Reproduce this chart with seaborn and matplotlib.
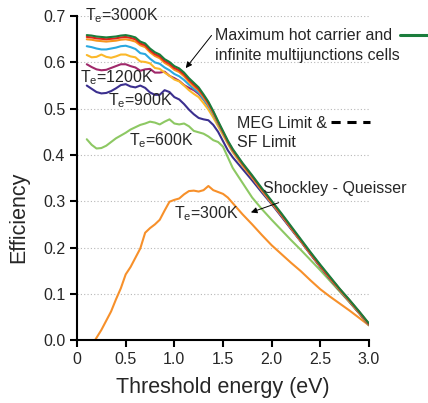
import numpy as np
import pandas as pd
import seaborn as sb
import matplotlib.pyplot as plt

# threshold energy grid (eV) shared by the hot-carrier curves
energy = [0.10, 0.15, 0.20, 0.25, 0.30, 0.35, 0.40, 0.45, 0.50, 0.55, 0.60, 0.65, 0.70,
          0.75, 0.80, 0.85, 0.90, 0.95, 1.00, 1.05, 1.10, 1.15, 1.20, 1.25, 1.30, 1.35,
          1.40, 1.45, 1.50, 1.55, 1.60, 1.7, 1.8, 1.9, 2.0, 2.1, 2.2, 2.3, 2.4, 2.5, 2.6,
          2.7, 2.8, 2.9, 3.0]

eff_max = [.659, .658, .656, .655, .654, .655, .656, .658, .659, .657, .654, .645, .641,
           .630, .622, .617, .607, .601, .592, .587, .578, .566, .556, .546, .531, .515,
           .495, .473, .452, .431, .413, .383, .356, .328, .301, .274, .246, .218, .190,
           .163, .137, .111, .087, .062, .036]
eff_red = [.655, .654, .652, .651, .650, .651, .652, .654, .655, .653, .650, .641, .637,
           .626, .618, .613, .603, .597, .588, .583, .574, .562, .552, .542, .528, .512,
           .493, .471, .450, .429, .411, .381, .354, .326, .299, .272, .244, .216, .188,
           .161, .135, .110, .086, .061, .035]
eff_3000 = [.650, .649, .647, .646, .645, .646, .647, .649, .650, .648, .645, .637, .633,
            .622, .614, .609, .599, .593, .584, .579, .570, .558, .548, .539, .525, .509,
            .490, .469, .448, .428, .410, .380, .353, .325, .298, .271, .243, .215, .187,
            .160, .134, .109, .085, .060, .034]
eff_blue = [.635, .633, .630, .628, .628, .630, .632, .635, .636, .633, .629, .620, .618,
            .608, .600, .597, .589, .583, .575, .570, .562, .552, .543, .535, .521, .506,
            .488, .467, .447, .427, .409, .380, .353, .325, .298, .271, .243, .215, .188,
            .161, .135, .109, .085, .060, .034]
eff_yellow = [.616, .611, .612, .617, .612, .610, .613, .617, .617, .613, .611, .602, .601,
              .598, .588, .586, .578, .571, .563, .559, .550, .540, .532, .525, .512, .498,
              .481, .462, .443, .424, .406, .377, .351, .323, .296, .270, .242, .214, .187,
              .160, .134, .108, .084, .059, .034]
eff_1200 = [.596, .590, .585, .583, .584, .588, .592, .596, .596, .592, .589, .582, .585,
            .586, .578, .578, .580, .571, .566, .560, .551, .545, .540, .532, .520, .505,
            .488, .468, .448, .427, .408, .378, .351, .323, .296, .269, .241, .214, .186,
            .159, .133, .108, .084, .059, .033]
eff_900 = [.550, .543, .536, .533, .534, .538, .544, .551, .553, .548, .546, .550, .545,
           .535, .530, .530, .540, .536, .525, .520, .510, .498, .488, .480, .477, .475,
           .465, .450, .430, .410, .395, .370, .345, .319, .294, .267, .240, .213, .185,
           .158, .132, .107, .083, .058, .033]
eff_600 = [.434, .422, .414, .415, .420, .428, .436, .442, .448, .455, .460, .465, .468,
           .472, .470, .466, .472, .477, .468, .466, .468, .462, .452, .449, .446, .440,
           .432, .428, .418, .395, .372, .340, .308, .283, .260, .238, .216, .195, .173,
           .151, .128, .105, .082, .058, .032]

# Shockley-Queisser (300K)
energy_300 = [0.185, 0.25, 0.30, 0.35, 0.40, 0.45, 0.50, 0.55, 0.60, 0.65, 0.70, 0.75,
              0.80, 0.85, 0.90, 0.95, 1.00, 1.05, 1.10, 1.15, 1.20, 1.25, 1.30, 1.35,
              1.40, 1.45, 1.50, 1.55, 1.60, 1.7, 1.8, 1.9, 2.0, 2.1, 2.2, 2.3, 2.4, 2.5,
              2.6, 2.7, 2.8, 2.9, 3.0]
eff_300 = [0.0, .022, .042, .062, .088, .112, .142, .158, .178, .198, .232, .242, .250,
           .260, .280, .299, .303, .306, .315, .322, .323, .321, .324, .333, .324, .320,
           .316, .308, .296, .272, .250, .227, .205, .186, .167, .149, .129, .110, .094,
           .079, .064, .048, .032]

x_ticks = [0, 0.5, 1.0, 1.5, 2.0, 2.5, 3.0]
x_labels = ["0", "0.5", "1.0", "1.5", "2.0", "2.5", "3.0"]
y_ticks = [0.0, 0.1, 0.2, 0.3, 0.4, 0.5, 0.6, 0.7]
y_labels = ["0.0", "0.1", "0.2", "0.3", "0.4", "0.5", "0.6", "0.7"]

sb.set_style("ticks")
plt.rcParams['font.family'] = ['Liberation Sans', 'DejaVu Sans']
plt.rcParams['mathtext.fontset'] = 'custom'
plt.rcParams['mathtext.rm'] = 'Liberation Sans'

fig = plt.figure(figsize=(4.28, 4.03), dpi=100, facecolor='w')
ax = fig.add_axes([0.18, 0.156, 0.682, 0.804])

for y in y_ticks[1:]:
    ax.axhline(y, xmin=0, xmax=1, color='#b8b8b8', lw=0.8, ls=(0, (1, 2)), zorder=0)

hot = [(eff_600, "#8dc863"), (eff_900, "#3b2f8f"), (eff_1200, "#a0286a"),
       (eff_yellow, "#fbb82a"), (eff_blue, "#2aa8e0"), (eff_3000, "#f7941d"),
       (eff_red, "#e2231a"), (eff_max, "#1b7d3c")]
sb.lineplot(x=energy_300, y=eff_300, color="#f7902a", lw=1.5, ax=ax)
for vals, col in hot:
    sb.lineplot(x=energy, y=vals, color=col, lw=1.5, ax=ax)

ax.set_xlim(0, 3.0)
ax.set_ylim(0, 0.7)
ax.set_xticks(x_ticks)
ax.set_xticklabels(x_labels)
ax.set_yticks(y_ticks)
ax.set_yticklabels(y_labels)
ax.tick_params(direction='out', length=5, width=1.5, labelsize=11.5, color='black')
for s in ["top", "right"]:
    ax.spines[s].set_visible(False)
for s in ["left", "bottom"]:
    ax.spines[s].set_linewidth(1.5)
    ax.spines[s].set_color('black')
ax.set_xlabel("Threshold energy (eV)", fontsize=15.5, labelpad=7)
ax.set_ylabel("Efficiency", fontsize=15.5)
ax.yaxis.set_label_coords(-0.165, 0.38)

fs = 11.5
ax.text(0.08, 0.70, r"T$_\mathregular{e}$=3000K", fontsize=fs, va='center', clip_on=False)
ax.text(0.03, 0.566, r"T$_\mathregular{e}$=1200K", fontsize=fs, va='center')
ax.text(0.32, 0.518, r"T$_\mathregular{e}$=900K", fontsize=fs, va='center')
ax.text(0.53, 0.432, r"T$_\mathregular{e}$=600K", fontsize=fs, va='center')
ax.text(1.0, 0.274, r"T$_\mathregular{e}$=300K", fontsize=fs, va='center')

ax.annotate("", xy=(1.10, 0.583), xytext=(1.40, 0.663),
            arrowprops=dict(arrowstyle='-|>', color='black', lw=0.7, mutation_scale=9))
ax.text(1.42, 0.659, "Maximum hot carrier and", fontsize=fs, va='center')
ax.text(1.42, 0.616, "infinite multijunctions cells", fontsize=fs, va='center')
ax.plot([3.32, 3.61], [0.659, 0.659], color="#1b7d3c", lw=2.2, clip_on=False)

ax.text(1.64, 0.469, "MEG Limit &", fontsize=fs, va='center')
ax.text(1.64, 0.428, "SF Limit", fontsize=fs, va='center')
ax.plot([2.61, 3.01], [0.471, 0.471], color="black", lw=2.2, ls=(0, (3, 2.2)), clip_on=False)

ax.text(1.91, 0.328, "Shockley - Queisser", fontsize=fs, va='center')
ax.annotate("", xy=(1.76, 0.274), xytext=(2.10, 0.299),
            arrowprops=dict(arrowstyle='-|>', color='black', lw=0.7, mutation_scale=9))

fig.savefig("out.png", dpi=100)
